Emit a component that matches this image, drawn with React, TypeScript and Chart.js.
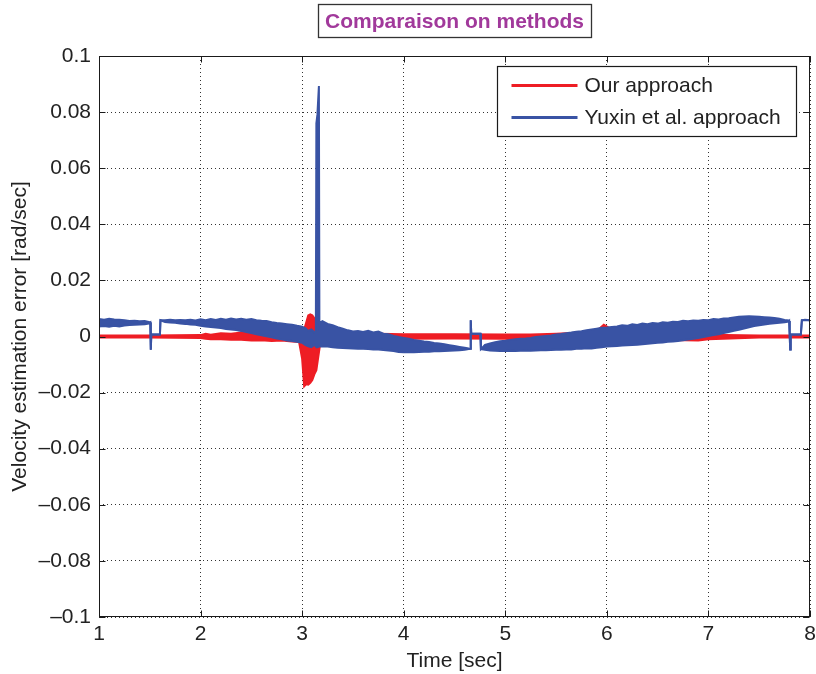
import React, { useEffect, useRef } from 'react';
import { Chart, registerables } from 'chart.js';

Chart.register(...registerables);

const TITLE = 'Comparaison on methods';
const X_LABEL = 'Time [sec]';
const Y_LABEL = 'Velocity estimation error [rad/sec]';
const SERIES_NAMES = ['Our approach', 'Yuxin et al. approach'];

const X_TICKS = [1, 2, 3, 4, 5, 6, 7, 8];
const X_TICK_LABELS = ['1', '2', '3', '4', '5', '6', '7', '8'];
const Y_TICKS = [-0.1, -0.08, -0.06, -0.04, -0.02, 0, 0.02, 0.04, 0.06, 0.08, 0.1];
const Y_TICK_LABELS = ['–0.1', '–0.08', '–0.06', '–0.04', '–0.02', '0', '0.02', '0.04', '0.06', '0.08', '0.1'];

// "Our approach" (red): upper / lower envelope of the oscillating error
const RED_T = [1.0, 1.5, 2.0, 2.05, 2.1, 2.2, 2.3, 2.4, 2.5, 2.6, 2.7, 2.8, 2.9, 2.97, 3.0, 3.02, 3.04, 3.06, 3.08, 3.1, 3.12, 3.14, 3.16, 3.18, 3.2, 3.5, 4.0, 4.5, 5.0, 5.2, 5.25, 5.5, 5.8, 5.9, 5.97, 6.05, 6.2, 6.5, 6.9, 7.0, 7.5, 8.0];
const RED_HI = [0.0004, 0.0004, 0.0005, 0.001, 0.0006, 0.0012, 0.001, 0.0014, 0.0012, 0.0015, 0.0014, 0.0016, 0.0015, 0.0018, 0.002, 0.0025, 0.005, 0.0075, 0.0079, 0.0076, 0.0065, 0.0045, 0.003, 0.0015, 0.0012, 0.0012, 0.0008, 0.0008, 0.0007, 0.0007, 0.0007, 0.001, 0.0015, 0.002, 0.0042, 0.0025, 0.0015, 0.0012, 0.0008, 0.0006, 0.0004, 0.0004];
const RED_LO = [-0.0004, -0.0004, -0.0005, -0.0008, -0.001, -0.001, -0.0012, -0.0012, -0.0014, -0.0013, -0.0016, -0.0014, -0.0018, -0.002, -0.008, -0.0178, -0.017, -0.0172, -0.0165, -0.0155, -0.0135, -0.012, -0.007, -0.002, -0.001, -0.0008, -0.0008, -0.0007, -0.0008, -0.0015, -0.0007, -0.0008, -0.001, -0.0012, -0.001, -0.001, -0.0012, -0.0012, -0.0014, -0.001, -0.0004, -0.0004];

// "Yuxin et al. approach" (blue): upper / lower envelope
const BLUE_T = [
  1.0, 1.05, 1.1, 1.15, 1.2, 1.25, 1.3, 1.35, 1.4, 1.45, 1.49, 1.505, 1.51, 1.515, 1.6, 1.605,
  1.65, 1.7, 1.75, 1.8, 1.85, 1.9, 1.95, 2.0, 2.05, 2.1, 2.15, 2.2, 2.25, 2.3, 2.35, 2.4, 2.45, 2.5,
  2.55, 2.6, 2.65, 2.7, 2.75, 2.8, 2.85, 2.9, 2.95, 3.0, 3.03, 3.06, 3.09, 3.12, 3.135, 3.14, 3.15, 3.165, 3.17,
  3.18, 3.2, 3.25, 3.3, 3.35, 3.4, 3.45, 3.5, 3.55, 3.6, 3.65, 3.7, 3.75, 3.8, 3.85, 3.9, 3.95, 4.0,
  4.05, 4.1, 4.15, 4.2, 4.25, 4.3, 4.35, 4.4, 4.45, 4.5, 4.55, 4.6, 4.64, 4.655, 4.66, 4.665, 4.755, 4.76,
  4.8, 4.85, 4.9, 4.95, 5.0, 5.05, 5.1, 5.15, 5.2, 5.25, 5.3, 5.35, 5.4, 5.45, 5.5, 5.55, 5.6, 5.65, 5.7,
  5.75, 5.8, 5.85, 5.9, 5.95, 6.0, 6.05, 6.1, 6.15, 6.2, 6.25, 6.3, 6.35, 6.4, 6.45, 6.5, 6.55, 6.6, 6.65,
  6.7, 6.75, 6.8, 6.85, 6.9, 6.95, 7.0, 7.05, 7.1, 7.15, 7.2, 7.25, 7.3, 7.35, 7.4, 7.45, 7.5, 7.55, 7.6,
  7.65, 7.7, 7.75, 7.79, 7.795, 7.8, 7.805, 7.81, 7.91, 7.92, 7.95, 8.0,
];
const BLUE_HI = [
  0.0062, 0.006, 0.0063, 0.0061, 0.006, 0.0058, 0.0055, 0.0056, 0.0054, 0.0055, 0.0052, 0.005, -0.0047, 0.0007, 0.0007, 0.0058,
  0.0058, 0.006, 0.0058, 0.0059, 0.0058, 0.006, 0.0057, 0.0061, 0.0058, 0.0062, 0.0059, 0.0063, 0.006, 0.0064, 0.0061, 0.0063, 0.006, 0.0062,
  0.0058, 0.0056, 0.0055, 0.0051, 0.0048, 0.0046, 0.0044, 0.0042, 0.0038, 0.0035, 0.003, 0.002, 0.0025, 0.0015, 0.002, 0.076, 0.079, 0.0893, 0.004,
  0.005, 0.0055, 0.0045, 0.004, 0.0033, 0.0028, 0.0022, 0.0018, 0.002, 0.0016, 0.002, 0.0014, 0.0018, 0.001, 0.0008, 0.0002, -0.0002, -0.0005,
  -0.0008, -0.0012, -0.0015, -0.0018, -0.002, -0.0023, -0.0025, -0.0028, -0.0031, -0.0034, -0.0037, -0.004, -0.0043, -0.0044, 0.0058, 0.001, 0.001, -0.0045,
  -0.003, -0.0025, -0.002, -0.0017, -0.0015, -0.0012, -0.001, -0.0008, -0.0007, -0.0005, -0.0002, 0.0, 0.0002, 0.0004, 0.0007, 0.0009, 0.0012, 0.0014, 0.0017,
  0.0019, 0.0022, 0.0025, 0.0028, 0.0031, 0.0032, 0.0034, 0.0036, 0.004, 0.0038, 0.0044, 0.0041, 0.0046, 0.0044, 0.0048, 0.0046, 0.0051, 0.0049, 0.0053,
  0.0052, 0.0056, 0.0054, 0.0057, 0.0056, 0.0059, 0.0058, 0.0062, 0.0061, 0.0064, 0.0065, 0.0068, 0.007, 0.0071, 0.0072, 0.0071, 0.007, 0.0069, 0.0068,
  0.0066, 0.0063, 0.0059, 0.0057, 0.0055, 0.0007, -0.0046, 0.0007, 0.0007, 0.0058, 0.006, 0.0058,
];
const BLUE_LO = [
  0.0036, 0.0037, 0.0035, 0.0038, 0.0036, 0.0039, 0.0041, 0.0042, 0.0043, 0.0044, 0.0046, 0.005, -0.0047, 0.0007, 0.0007, 0.0058,
  0.0052, 0.005, 0.0049, 0.0046, 0.0045, 0.0043, 0.0042, 0.0038, 0.0036, 0.0034, 0.0032, 0.003, 0.0027, 0.0025, 0.0023, 0.002, 0.0016, 0.0012,
  0.0008, 0.0004, 0.0001, -0.0003, -0.0007, -0.001, -0.0014, -0.0016, -0.0019, -0.0022, -0.003, -0.0035, -0.0038, -0.003, -0.0035, -0.0038, -0.0038, -0.0036, -0.0036,
  -0.0035, -0.0036, -0.0036, -0.0038, -0.004, -0.0041, -0.0042, -0.0043, -0.0044, -0.0044, -0.0045, -0.0046, -0.0046, -0.0048, -0.005, -0.0052, -0.0055, -0.0056,
  -0.0055, -0.0056, -0.0055, -0.0054, -0.0054, -0.0053, -0.0053, -0.0052, -0.0051, -0.005, -0.0049, -0.0047, -0.0045, -0.0044, 0.0058, 0.001, 0.001, -0.0045,
  -0.0047, -0.005, -0.0051, -0.0052, -0.0052, -0.0051, -0.0052, -0.0051, -0.005, -0.0051, -0.005, -0.0049, -0.0049, -0.0048, -0.0047, -0.0047, -0.0046, -0.0046, -0.0044,
  -0.0044, -0.0042, -0.0043, -0.004, -0.0038, -0.0036, -0.0035, -0.0034, -0.0032, -0.0031, -0.003, -0.0029, -0.0028, -0.0026, -0.0024, -0.0022, -0.0021, -0.0019, -0.0018,
  -0.0016, -0.0013, -0.0011, -0.0008, -0.0005, -0.0002, 0.0002, 0.0005, 0.0008, 0.0012, 0.0016, 0.002, 0.0024, 0.0028, 0.0033, 0.0037, 0.004, 0.0043, 0.0045,
  0.0047, 0.0049, 0.0051, 0.0053, 0.0055, 0.0007, -0.0046, 0.0007, 0.0007, 0.0058, 0.0058, 0.0058,
];

const RED = '#ee1d24';
const BLUE = '#3953a4';
const TITLE_COLOR = '#a1399b';
const TEXT = '#222222';
const FONT = "'Liberation Sans', Arial, Helvetica, sans-serif";

const toPoints = (t: number[], v: number[]) => t.map((x, i) => ({ x, y: v[i] }));

const framePlugin = {
  id: 'matlabFrame',
  afterDatasetsDraw(chart: any) {
    const { ctx, chartArea: a, scales } = chart;
    ctx.save();
    ctx.strokeStyle = '#1a1a1a';
    ctx.lineWidth = 1;
    const l = Math.round(a.left) + 0.5;
    const r = Math.round(a.right) - 0.5;
    const t = Math.round(a.top) + 0.5;
    const b = Math.round(a.bottom) - 0.5;
    ctx.strokeRect(l, t, r - l, b - t);
    ctx.beginPath();
    const tl = 6;
    for (const v of Y_TICKS) {
      const y = Math.round(scales.y.getPixelForValue(v)) + 0.5;
      ctx.moveTo(l, y); ctx.lineTo(l + tl, y);
      ctx.moveTo(r, y); ctx.lineTo(r - tl, y);
    }
    for (const v of X_TICKS) {
      const x = Math.round(scales.x.getPixelForValue(v)) + 0.5;
      ctx.moveTo(x, b); ctx.lineTo(x, b - tl);
      ctx.moveTo(x, t); ctx.lineTo(x, t + tl);
    }
    ctx.stroke();
    ctx.restore();
  },
};

const overlayPlugin = {
  id: 'matlabOverlay',
  afterDraw(chart: any) {
    const { ctx, chartArea: a } = chart;
    ctx.save();
    // Title with box
    ctx.font = `bold 21px ${FONT}`;
    const cx = (a.left + a.right) / 2;
    const tw = ctx.measureText(TITLE).width;
    const bw = tw + 14;
    ctx.fillStyle = '#ffffff';
    ctx.fillRect(cx - bw / 2, 4.5, bw, 33);
    ctx.strokeStyle = '#333333';
    ctx.lineWidth = 1.3;
    ctx.strokeRect(Math.round(cx - bw / 2) + 0.5, 4.5, Math.round(bw), 33);
    ctx.fillStyle = TITLE_COLOR;
    ctx.textAlign = 'center';
    ctx.textBaseline = 'middle';
    ctx.fillText(TITLE, cx, 22);

    // Legend
    const ds = chart.data.datasets;
    const entries = [
      { label: ds[0].label, color: ds[0].borderColor },
      { label: ds[2].label, color: ds[2].borderColor },
    ];
    const x0 = Math.round(a.right) - 313 + 0.5;
    const y0 = Math.round(a.top) + 10 + 0.5;
    const w = 299;
    const h = 70;
    ctx.fillStyle = '#ffffff';
    ctx.fillRect(x0, y0, w, h);
    ctx.strokeStyle = '#1a1a1a';
    ctx.lineWidth = 1.2;
    ctx.strokeRect(x0, y0, w, h);
    ctx.font = `21px ${FONT}`;
    ctx.textAlign = 'left';
    ctx.textBaseline = 'middle';
    entries.forEach((e, i) => {
      const y = y0 + 19 + i * 32;
      ctx.strokeStyle = e.color;
      ctx.lineWidth = 3;
      ctx.beginPath();
      ctx.moveTo(x0 + 14, y);
      ctx.lineTo(x0 + 80, y);
      ctx.stroke();
      ctx.fillStyle = TEXT;
      ctx.fillText(e.label, x0 + 87, y + 1);
    });
    ctx.restore();
  },
};

export default function App() {
  const canvasRef = useRef<HTMLCanvasElement | null>(null);

  useEffect(() => {
    const canvas = canvasRef.current;
    if (!canvas) return;
    Chart.defaults.font.family = FONT;
    Chart.defaults.color = TEXT;

    const common = { pointRadius: 0, pointHoverRadius: 0, tension: 0, borderWidth: 2 };

    const chart = new Chart(canvas, {
      type: 'line',
      data: {
        datasets: [
          { ...common, label: SERIES_NAMES[0], data: toPoints(RED_T, RED_HI), borderColor: RED, backgroundColor: RED, fill: false, order: 1 },
          { ...common, label: '', data: toPoints(RED_T, RED_LO), borderColor: RED, backgroundColor: RED, fill: '-1', order: 1 },
          { ...common, label: SERIES_NAMES[1], data: toPoints(BLUE_T, BLUE_HI), borderColor: BLUE, backgroundColor: BLUE, fill: false, order: 0 },
          { ...common, label: '', data: toPoints(BLUE_T, BLUE_LO), borderColor: BLUE, backgroundColor: BLUE, fill: '-1', order: 0 },
        ],
      },
      options: {
        animation: false,
        responsive: false,
        devicePixelRatio: 1,
        parsing: false as any,
        normalized: true,
        layout: { padding: { top: 56, right: 6, left: 0, bottom: 0 } },
        plugins: {
          legend: { display: false },
          title: { display: false },
          tooltip: { enabled: false },
        },
        events: [],
        scales: {
          x: {
            type: 'linear',
            min: 1,
            max: 8,
            afterBuildTicks: (scale: any) => {
              scale.ticks = X_TICKS.map((v) => ({ value: v }));
            },
            afterFit: (scale: any) => {
              scale.height = 57;
              scale.paddingLeft = 0;
              scale.paddingRight = 0;
            },
            ticks: {
              font: { size: 21, family: FONT },
              color: TEXT,
              padding: 5,
              maxRotation: 0,
              autoSkip: false,
              callback: (_v: any, i: number) => X_TICK_LABELS[i],
            },
            grid: { color: 'rgba(0,0,0,0.8)', lineWidth: 1, drawTicks: false },
            border: { display: false, dash: [1, 3] },
            title: {
              display: true,
              text: X_LABEL,
              font: { size: 21, family: FONT },
              color: TEXT,
              padding: { top: 0, bottom: 0 },
            },
          },
          y: {
            type: 'linear',
            min: -0.1,
            max: 0.1,
            afterBuildTicks: (scale: any) => {
              scale.ticks = Y_TICKS.map((v) => ({ value: v }));
            },
            afterFit: (scale: any) => {
              scale.width = 99;
              scale.paddingTop = 0;
              scale.paddingBottom = 0;
            },
            ticks: {
              font: { size: 21, family: FONT },
              color: TEXT,
              padding: 8,
              autoSkip: false,
              callback: (_v: any, i: number) => Y_TICK_LABELS[i],
            },
            grid: { color: 'rgba(0,0,0,0.8)', lineWidth: 1, drawTicks: false },
            border: { display: false, dash: [1, 3] },
            title: {
              display: true,
              text: Y_LABEL,
              font: { size: 21, family: FONT },
              color: TEXT,
              padding: { top: 8, bottom: 0 },
            },
          },
        },
      },
      plugins: [framePlugin, overlayPlugin],
    } as any);

    return () => chart.destroy();
  }, []);

  return (
    <div style={{ position: 'absolute', left: 0, top: 0, width: 816, height: 674, background: '#ffffff' }}>
      <canvas ref={canvasRef} width={816} height={674} style={{ display: 'block', width: 816, height: 674 }} />
    </div>
  );
}
